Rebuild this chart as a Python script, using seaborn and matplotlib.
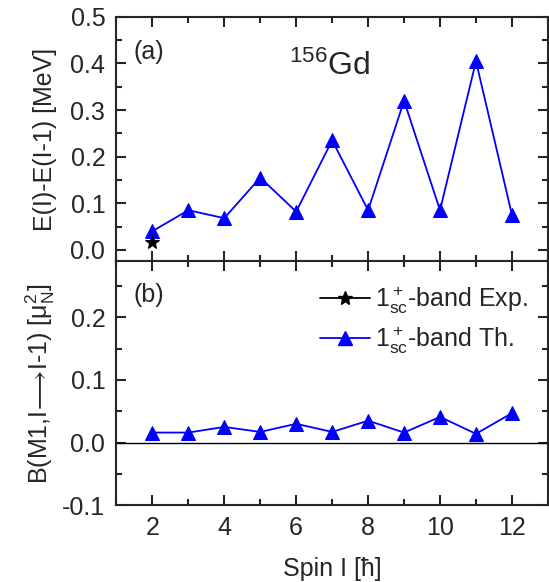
import matplotlib
matplotlib.use("Agg")
import matplotlib.pyplot as plt
from matplotlib.ticker import MultipleLocator, FormatStrFormatter
from matplotlib.lines import Line2D
import seaborn as sns
import pandas as pd

# data
spin = [2, 3, 4, 5, 6, 7, 8, 9, 10, 11, 12]
de_th = [0.040, 0.085, 0.068, 0.155, 0.082, 0.235, 0.085, 0.320, 0.085, 0.405, 0.075]
spin_exp = [2]
de_exp = [0.017]
bm1_th = [0.016, 0.016, 0.025, 0.017, 0.030, 0.017, 0.035, 0.016, 0.041, 0.014, 0.047]

lab_exp = r'$\mathregular{1^+_{sc}}$-band Exp.'
lab_th = r'$\mathregular{1^+_{sc}}$-band Th.'

sns.set_style("ticks")
plt.rcParams['font.family'] = ['Liberation Sans', 'DejaVu Sans']
plt.rcParams['mathtext.fontset'] = 'custom'
plt.rcParams['mathtext.rm'] = 'Liberation Sans'
plt.rcParams['mathtext.it'] = 'Liberation Sans:italic'

df_th = pd.DataFrame({'spin': spin, 'de': de_th, 'bm1': bm1_th})
df_exp = pd.DataFrame({'spin': spin_exp, 'de': de_exp})

fig, (ax1, ax2) = plt.subplots(2, 1, figsize=(5.49, 5.82), dpi=100, sharex=True)
fig.subplots_adjust(left=0.212, right=0.998, top=0.971, bottom=0.132, hspace=0)

fs = 18

# panel (a)
sns.lineplot(data=df_th, x='spin', y='de', ax=ax1, color='blue', marker='^',
             markersize=10, markeredgecolor='blue', lw=1.3)
sns.lineplot(data=df_exp, x='spin', y='de', ax=ax1, color='black', marker='*',
             markersize=10, markeredgecolor='black', lw=1.3)
ax1.set_ylim(-0.024, 0.5)
ax1.set_ylabel('E(I)-E(I-1) [MeV]', fontsize=fs)
ax1.text(0.04, 0.856, '(a)', transform=ax1.transAxes, fontsize=fs, va='center')
ax1.text(0.40, 0.76, r'$\mathregular{^{156}}$Gd', transform=ax1.transAxes, fontsize=23,
         va='baseline')

# panel (b)
ax2.axhline(0, color='black', lw=1)
sns.lineplot(data=df_th, x='spin', y='bm1', ax=ax2, color='blue', marker='^',
             markersize=10, markeredgecolor='blue', lw=1.3)
ax2.set_ylim(-0.1, 0.29)
ax2.set_ylabel(r'B(M1,I$\!\longrightarrow\!$I-1) [$\mathregular{\mu_N^2}$]', fontsize=fs)
ax2.text(0.04, 0.86, '(b)', transform=ax2.transAxes, fontsize=fs, va='center')
h_exp = Line2D([], [], color='black', marker='*', markersize=10, lw=1.3)
h_th = Line2D([], [], color='blue', marker='^', markersize=10, lw=1.3)
ax2.legend([h_exp, h_th], [lab_exp, lab_th], loc='upper right',
           bbox_to_anchor=(1.005, 0.995), frameon=False, fontsize=fs,
           handlelength=2.0, handletextpad=0.2, labelspacing=0.35)

ax2.set_xlim(1, 13)
ax2.set_xlabel('Spin I [ħ]', fontsize=fs, labelpad=12)

for ax in (ax1, ax2):
    ax.xaxis.set_major_locator(MultipleLocator(2))
    ax.xaxis.set_minor_locator(MultipleLocator(1))
    ax.yaxis.set_major_locator(MultipleLocator(0.1))
    ax.yaxis.set_minor_locator(MultipleLocator(0.05))
    ax.yaxis.set_major_formatter(FormatStrFormatter('%.1f'))
    ax.tick_params(which='both', direction='in', top=True, right=True, width=1.5,
                   labelsize=fs, pad=8)
    ax.tick_params(which='major', length=7)
    ax.tick_params(which='minor', length=4)
    for s in ax.spines.values():
        s.set_linewidth(1.5)

fig.align_ylabels([ax1, ax2])
fig.savefig('out.png', dpi=100)
